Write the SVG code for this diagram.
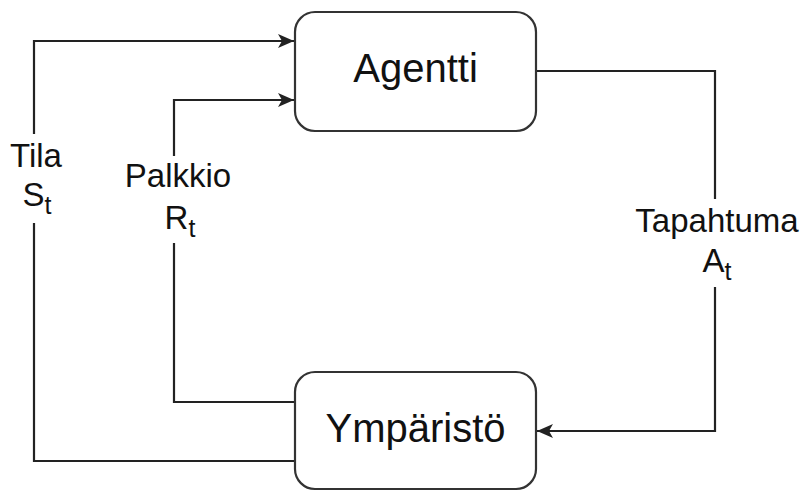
<svg xmlns="http://www.w3.org/2000/svg" width="803" height="491" viewBox="0 0 803 491">
  <style>
    .box { fill: #ffffff; stroke: #333333; stroke-width: 2.2; }
    .edge { fill: none; stroke: #222222; stroke-width: 2.2; }
    .node-label { font-family: "Liberation Sans", Arial, sans-serif; font-size: 40px; fill: #111111; text-anchor: middle; }
    .edge-label { font-family: "Liberation Sans", Arial, sans-serif; font-size: 33px; fill: #111111; text-anchor: middle; }
    .sub { font-size: 25px; }
    .label-bg { fill: #ffffff; }
  </style>
  <defs>
    <marker id="arrow" markerUnits="userSpaceOnUse" markerWidth="17" markerHeight="15" refX="16" refY="7" orient="auto">
      <path d="M0,0 L16,7 L0,14 L4,7 Z" fill="#222222"/>
    </marker>
  </defs>

  <rect width="803" height="491" fill="#ffffff"/>

  <!-- connectors -->
  <g id="connectors">
    <path class="edge" d="M295,461 H34 V41 H294" marker-end="url(#arrow)"/>
    <path class="edge" d="M295,402 H174 V100 H294" marker-end="url(#arrow)"/>
    <path class="edge" d="M536,71 H715 V431 H537" marker-end="url(#arrow)"/>

    <g id="label-tila">
      <rect class="label-bg" x="8" y="134" width="56" height="89"/>
      <text class="edge-label" x="36" y="167">Tila</text>
      <text class="edge-label" x="37" y="206">S<tspan class="sub" dy="8">t</tspan></text>
    </g>
    <g id="label-palkkio">
      <rect class="label-bg" x="120" y="156" width="118" height="87"/>
      <text class="edge-label" x="178" y="187">Palkkio</text>
      <text class="edge-label" x="180" y="229">R<tspan class="sub" dy="8">t</tspan></text>
    </g>
    <g id="label-tapahtuma">
      <rect class="label-bg" x="630" y="199" width="173" height="88"/>
      <text class="edge-label" x="717" y="232">Tapahtuma</text>
      <text class="edge-label" x="717" y="272">A<tspan class="sub" dy="8">t</tspan></text>
    </g>
  </g>

  <!-- nodes -->
  <g id="agentti">
    <rect class="box" x="295" y="12" width="241" height="119" rx="20" ry="20"/>
    <text class="node-label" x="415.5" y="82">Agentti</text>
  </g>
  <g id="ymparisto">
    <rect class="box" x="295" y="372" width="241" height="117" rx="20" ry="20"/>
    <text class="node-label" x="415.5" y="442">Ympäristö</text>
  </g>
</svg>
